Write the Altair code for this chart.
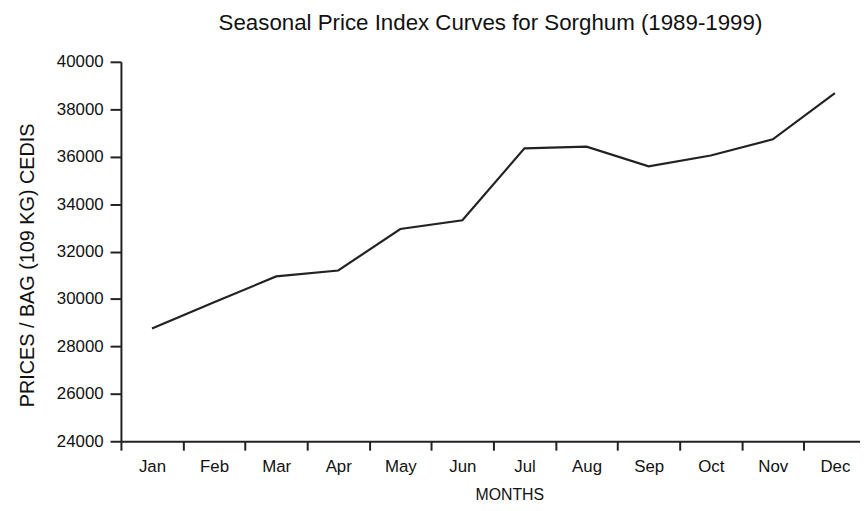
import altair as alt
import pandas as pd

months = ["Jan", "Feb", "Mar", "Apr", "May", "Jun", "Jul", "Aug", "Sep", "Oct", "Nov", "Dec"]
prices = [28750, 29860, 30950, 31200, 32950, 33320, 36350, 36420, 35590, 36050, 36730, 38680]
y_ticks = [24000, 26000, 28000, 30000, 32000, 34000, 36000, 38000, 40000]

df = pd.DataFrame({"month": months, "price": prices})

FONT = "Liberation Sans"
INK = "#222222"

chart = alt.Chart(df).mark_line(color=INK, strokeWidth=2.2).encode(
    x=alt.X(
        "month:N",
        sort=months,
        scale=alt.Scale(type="band", range=[0, 752], paddingInner=0, paddingOuter=0),
        axis=alt.Axis(
            title="MONTHS",
            labelAngle=0,
            tickBand="extent",
            tickSize=9,
            tickWidth=2,
            tickColor=INK,
            domainColor=INK,
            domainWidth=2,
            labelFont=FONT,
            labelFontSize=17,
            labelColor="#111111",
            labelPadding=9,
            titleFont=FONT,
            titleFontSize=16,
            titleFontWeight="normal",
            titleColor="#111111",
            titleX=392,
            titleY=59,
            titleAlign="center",
            titleBaseline="alphabetic",
            grid=False,
        ),
    ),
    y=alt.Y(
        "price:Q",
        scale=alt.Scale(domain=[24000, 40000], nice=False, zero=False),
        axis=alt.Axis(
            title="PRICES / BAG (109 KG) CEDIS",
            values=y_ticks,
            format="d",
            tickSize=11,
            tickWidth=2,
            tickColor=INK,
            domainColor=INK,
            domainWidth=2,
            labelFont=FONT,
            labelFontSize=17,
            labelColor="#111111",
            labelPadding=7,
            titleFont=FONT,
            titleFontSize=20,
            titleFontWeight="normal",
            titleColor="#111111",
            titleAngle=270,
            titleX=-88,
            titleY=205,
            titleAlign="center",
            titleBaseline="alphabetic",
            grid=False,
        ),
    ),
).properties(
    width=746,
    height=383,
    title=alt.TitleParams(
        "Seasonal Price Index Curves for Sorghum (1989-1999)",
        font=FONT,
        fontSize=22.5,
        fontWeight="normal",
        color="#111111",
        anchor="middle",
        frame="group",
        baseline="alphabetic",
        offset=29,
        dy=28,
    ),
    autosize=alt.AutoSizeParams(type="none"),
    padding={"left": 114, "top": 52, "right": 0, "bottom": 60},
).configure_view(stroke=None)

chart.save("out.html", embed_options={"renderer": "svg", "actions": False})
